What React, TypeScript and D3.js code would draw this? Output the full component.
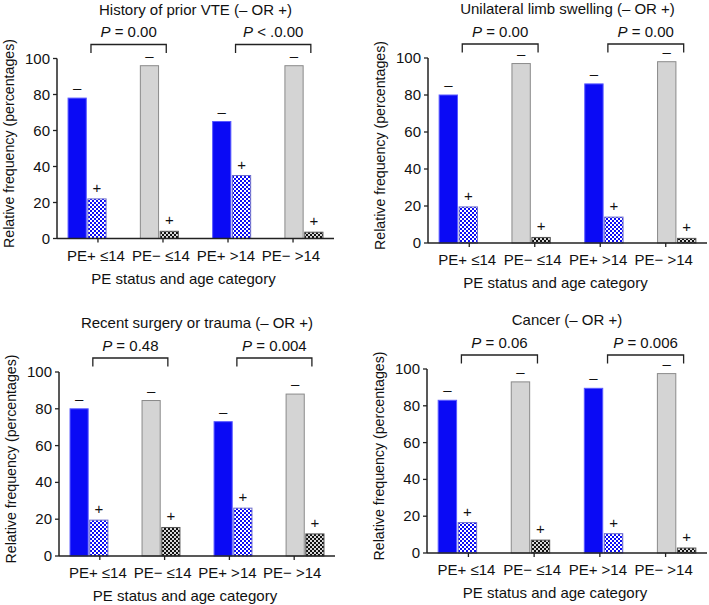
import React from "react";
import * as d3 from "d3";

const categories = ["PE+ ≤14", "PE− ≤14", "PE+ >14", "PE− >14"];
const isPositive = [true, false, true, false];
const titles = [
  "History of prior VTE (– OR +)",
  "Unilateral limb swelling (– OR +)",
  "Recent surgery or trauma (– OR +)",
  "Cancer (– OR +)",
];
const negValues1 = [78, 96, 65, 96];
const negValues2 = [80, 97, 86, 98];
const negValues3 = [80, 84.5, 73, 88];
const negValues4 = [83, 93, 89.5, 97.5];
const posValues1 = [22, 4, 35, 3.5];
const posValues2 = [19.5, 3, 14, 2.5];
const posValues3 = [19.5, 15.5, 26, 12];
const posValues4 = [16.5, 7, 10.5, 2.7];
const pLabels1 = ["= 0.00", "< .0.00"];
const pLabels2 = ["= 0.00", "= 0.00"];
const pLabels3 = ["= 0.48", "= 0.004"];
const pLabels4 = ["= 0.06", "= 0.006"];
const yTicks = [0, 20, 40, 60, 80, 100];
const xTitle = "PE status and age category";
const yTitle = "Relative frequency (percentages)";

const negAll = [negValues1, negValues2, negValues3, negValues4];
const posAll = [posValues1, posValues2, posValues3, posValues4];
const pAll = [pLabels1, pLabels2, pLabels3, pLabels4];

// layout (pixel frames of each panel's axes)
const frames = [
  { x0: 57, x1: 334, y0: 238.5, y100: 58.5 },
  { x0: 428, x1: 707, y0: 243, y100: 58 },
  { x0: 59, x1: 335, y0: 556, y100: 372 },
  { x0: 427, x1: 707, y0: 553, y100: 369 },
];

const FONT = "'Liberation Sans', Arial, Helvetica, sans-serif";
const BLUE = "#0a0af5";
const GRAY = "#d4d4d4";
const INK = "#111";

function Panel({ idx }: { idx: number }) {
  const f = frames[idx];
  const neg = negAll[idx];
  const pos = posAll[idx];
  const pl = pAll[idx];
  const y = d3.scaleLinear().domain([0, 100]).range([f.y0, f.y100]);
  const xb = d3
    .scaleBand<string>()
    .domain(categories)
    .range([f.x0, f.x1])
    .paddingInner(0.474)
    .paddingOuter(0.153);
  const sub = d3
    .scaleBand<string>()
    .domain(["neg", "pos"])
    .range([0, xb.bandwidth()])
    .paddingInner(0.08);
  const xt = d3.scalePoint<string>().domain(categories).range([f.x0, f.x1]).padding(0.63);
  const cx = (f.x0 + f.x1) / 2;
  const midY = (f.y0 + f.y100) / 2;

  const bars: React.ReactNode[] = [];
  categories.forEach((c, i) => {
    const gx = xb(c)!;
    const nx = gx + sub("neg")!;
    const px = gx + sub("pos")!;
    const w = sub.bandwidth();
    const ny = y(neg[i]);
    const py = y(pos[i]);
    const plus = isPositive[i];
    bars.push(
      <g key={c}>
        <rect
          x={nx}
          y={ny}
          width={w}
          height={f.y0 - ny}
          fill={plus ? BLUE : GRAY}
          stroke={plus ? "#5a5aff" : "#8a8a8a"}
          strokeWidth={1}
        />
        <rect
          x={px}
          y={py}
          width={w}
          height={f.y0 - py}
          fill={plus ? "url(#chkBlue)" : "url(#chkBlack)"}
          stroke={plus ? "#6c6ccc" : "#555"}
          strokeWidth={1}
        />
        <text x={nx + w / 2} y={ny - 5} textAnchor="middle" fontSize={15} fill={INK}>
          –
        </text>
        <text x={px + w / 2} y={py - 6} textAnchor="middle" fontSize={15} fill={INK}>
          +
        </text>
      </g>
    );
  });

  const bw = sub.bandwidth();
  const chkCenter = (i: number) => xb(categories[i])! + sub("pos")! + bw / 2;
  const brackets = [
    [0, 1],
    [2, 3],
  ].map(([a, b], k) => {
    const xa = chkCenter(a) - 6;
    const xe = chkCenter(b) - 3;
    const by = f.y100 - 14;
    return (
      <g key={k}>
        <path
          d={`M${xa},${by + 8.5}V${by}H${xe}V${by + 8.5}`}
          fill="none"
          stroke="#222"
          strokeWidth={1.3}
        />
        <text x={(xa + xe) / 2} y={f.y100 - 21.5} textAnchor="middle" fontSize={15} fill={INK}>
          <tspan fontStyle="italic">P</tspan> {pl[k]}
        </text>
      </g>
    );
  });

  return (
    <g fontFamily={FONT} fill={INK}>
      <text x={cx} y={f.y100 - 44} textAnchor="middle" fontSize={15}>
        {titles[idx]}
      </text>
      {brackets}
      {bars}
      <line x1={f.x0} x2={f.x0} y1={f.y0} y2={f.y100} stroke="#222" strokeWidth={1.5} />
      {yTicks.map((t) => (
        <g key={t}>
          <line x1={f.x0 - 4} x2={f.x0} y1={y(t)} y2={y(t)} stroke="#222" strokeWidth={1.3} />
          <text x={f.x0 - 7} y={y(t) + 5} textAnchor="end" fontSize={15}>
            {t}
          </text>
        </g>
      ))}
      <line x1={f.x0} x2={f.x1} y1={f.y0} y2={f.y0} stroke="#222" strokeWidth={1.5} />
      {categories.map((c) => (
        <g key={c}>
          <line x1={xt(c)!} x2={xt(c)!} y1={f.y0} y2={f.y0 + 4} stroke="#222" strokeWidth={1.3} />
          <text x={xt(c)! - 2} y={f.y0 + 22} textAnchor="middle" fontSize={15}>
            {c}
          </text>
        </g>
      ))}
      <text x={cx - 12} y={f.y0 + 45} textAnchor="middle" fontSize={15}>
        {xTitle}
      </text>
      <text
        transform={`translate(${f.x0 - 43},${midY - 5}) rotate(-90)`}
        textAnchor="middle"
        fontSize={14.2}
      >
        {yTitle}
      </text>
    </g>
  );
}

export default function App() {
  return (
    <svg
      width={709}
      height={605}
      style={{ position: "absolute", left: 0, top: 0, background: "#fff" }}
    >
      <defs>
        <pattern id="chkBlue" width={4} height={4} patternUnits="userSpaceOnUse">
          <rect width={4} height={4} fill="#ffffff" />
          <rect width={2} height={2} fill={BLUE} />
          <rect x={2} y={2} width={2} height={2} fill={BLUE} />
        </pattern>
        <pattern id="chkBlack" width={4} height={4} patternUnits="userSpaceOnUse">
          <rect width={4} height={4} fill="#d8d8d8" />
          <rect width={2} height={2} fill="#111" />
          <rect x={2} y={2} width={2} height={2} fill="#111" />
        </pattern>
      </defs>
      <rect width={709} height={605} fill="#fff" />
      {[0, 1, 2, 3].map((i) => (
        <Panel key={i} idx={i} />
      ))}
    </svg>
  );
}
